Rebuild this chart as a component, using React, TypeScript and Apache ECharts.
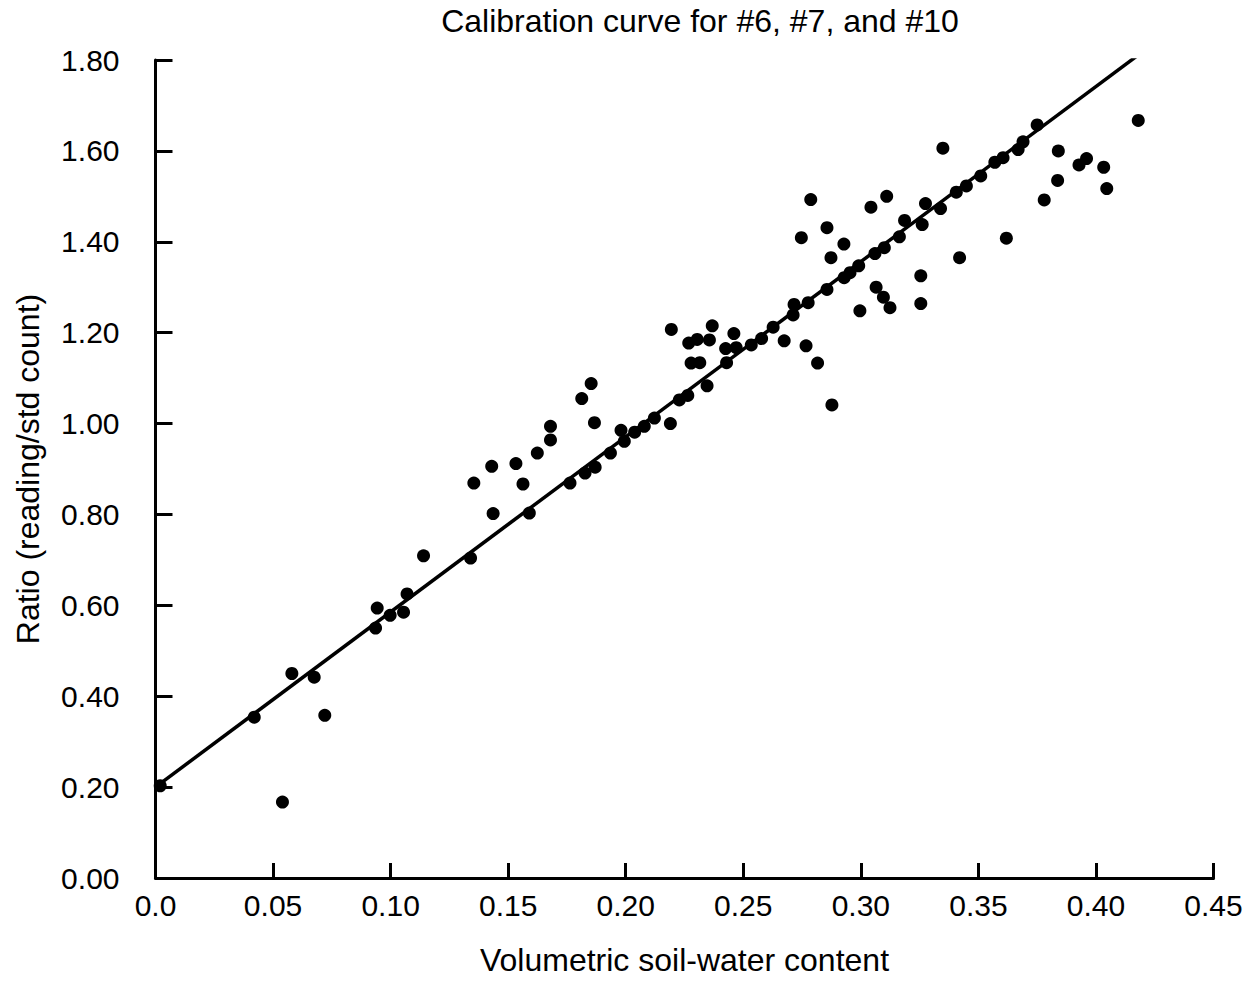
import React, { useEffect, useRef } from "react";
import * as echarts from "echarts";

const titleText = "Calibration curve for #6, #7, and #10";
const xAxisName = "Volumetric soil-water content";
const yAxisName = "Ratio (reading/std count)";

// Observed points: [volumetric soil-water content, ratio]
const waterContent = [
  0.002, 0.054, 0.042, 0.058, 0.0675, 0.072, 0.0936, 0.0943, 0.0998, 0.1055, 0.107, 0.114,
  0.134, 0.1436, 0.1354, 0.143, 0.1533, 0.1563, 0.159, 0.1624, 0.168, 0.168, 0.1763, 0.1813,
  0.1853, 0.1867, 0.1827, 0.187, 0.1935, 0.198, 0.1994, 0.2038, 0.2079, 0.2122, 0.219, 0.2228,
  0.2264, 0.2346, 0.2194, 0.2268, 0.2304, 0.2278, 0.2315, 0.2368, 0.2356, 0.2425, 0.2429, 0.246,
  0.247, 0.2534, 0.2578, 0.2627, 0.2674, 0.2712, 0.2716, 0.2776, 0.2767, 0.2816, 0.2877, 0.2787,
  0.2747, 0.2856, 0.2928, 0.2873, 0.2856, 0.2929, 0.2954, 0.2991, 0.2996, 0.306, 0.31, 0.3065,
  0.3096, 0.3124, 0.3043, 0.311, 0.3164, 0.3186, 0.3255, 0.3255, 0.3261, 0.3275, 0.3339, 0.3406,
  0.342, 0.3349, 0.3449, 0.351, 0.357, 0.3605, 0.3669, 0.369, 0.375, 0.3619, 0.378, 0.3837,
  0.384, 0.3928, 0.396, 0.4033, 0.4046, 0.418,
];
const ratio = [
  0.203, 0.167, 0.354, 0.45, 0.442, 0.358, 0.55, 0.594, 0.578, 0.585, 0.625, 0.709,
  0.704, 0.802, 0.869, 0.906, 0.912, 0.867, 0.803, 0.935, 0.964, 0.994, 0.869, 1.055,
  1.088, 1.002, 0.891, 0.904, 0.935, 0.985, 0.961, 0.981, 0.994, 1.012, 1.0, 1.052,
  1.062, 1.083, 1.207, 1.177, 1.185, 1.133, 1.134, 1.215, 1.184, 1.165, 1.134, 1.198,
  1.167, 1.173, 1.187, 1.212, 1.182, 1.239, 1.262, 1.266, 1.171, 1.133, 1.041, 1.493,
  1.409, 1.431, 1.395, 1.365, 1.295, 1.321, 1.332, 1.347, 1.248, 1.374, 1.387, 1.3,
  1.278, 1.255, 1.476, 1.5, 1.411, 1.447, 1.325, 1.264, 1.438, 1.484, 1.473, 1.509,
  1.365, 1.606, 1.523, 1.545, 1.575, 1.585, 1.603, 1.62, 1.657, 1.408, 1.492, 1.535,
  1.6, 1.569, 1.583, 1.564, 1.517, 1.667,
];

// Calibration line end points
const fitX = [0, 0.418];
const fitY = [0.2, 1.811];

const xMin = 0;
const xMax = 0.45;
const xStep = 0.05;
const yMin = 0;
const yMax = 1.8;
const yStep = 0.2;

const FONT = "'Liberation Sans', Arial, Helvetica, sans-serif";

export default function App() {
  const ref = useRef<HTMLDivElement>(null);
  useEffect(() => {
    if (!ref.current) return;
    const chart = echarts.init(ref.current, null, { renderer: "svg" });
    const points = waterContent.map((x, i) => [x, ratio[i]]);
    const fit = fitX.map((x, i) => [x, fitY[i]]);
    const axisLine = { show: true, lineStyle: { color: "#000", width: 3 } };
    chart.setOption({
      animation: false,
      backgroundColor: "#fff",
      title: {
        text: titleText,
        left: 695,
        textAlign: "center",
        top: 0,
        textStyle: { fontFamily: FONT, fontSize: 32, fontWeight: "normal", color: "#000" },
      },
      grid: { left: 155.5, right: 43.5, top: 60, bottom: 100 },
      xAxis: {
        type: "value",
        min: xMin,
        max: xMax,
        interval: xStep,
        name: xAxisName,
        nameLocation: "middle",
        nameGap: 66,
        nameTextStyle: { fontFamily: FONT, fontSize: 32, color: "#000" },
        axisLine,
        axisTick: { show: true, inside: true, length: 15, lineStyle: { color: "#000", width: 3 } },
        splitLine: { show: false },
        axisLabel: {
          fontFamily: FONT,
          fontSize: 30,
          color: "#000",
          margin: 12,
          formatter: (v: number) => (v === 0 ? "0.0" : v.toFixed(2)),
        },
      },
      yAxis: {
        type: "value",
        min: yMin,
        max: yMax,
        interval: yStep,
        name: yAxisName,
        nameLocation: "middle",
        nameGap: 112,
        nameTextStyle: { fontFamily: FONT, fontSize: 32, color: "#000" },
        axisLine,
        axisTick: { show: true, inside: true, length: 17, lineStyle: { color: "#000", width: 3 } },
        splitLine: { show: false },
        axisLabel: {
          fontFamily: FONT,
          fontSize: 30,
          color: "#000",
          margin: 36,
          formatter: (v: number) => v.toFixed(2),
        },
      },
      series: [
        {
          type: "line",
          data: fit,
          symbol: "none",
          lineStyle: { color: "#000", width: 3.5 },
          z: 2,
        },
        {
          type: "scatter",
          data: points,
          symbol: "circle",
          symbolSize: 13,
          itemStyle: { color: "#000", opacity: 1 },
          z: 3,
        },
      ],
    });
    return () => chart.dispose();
  }, []);
  return (
    <div
      ref={ref}
      style={{ position: "fixed", left: 0, top: 0, width: 1257, height: 981, background: "#fff" }}
    />
  );
}
